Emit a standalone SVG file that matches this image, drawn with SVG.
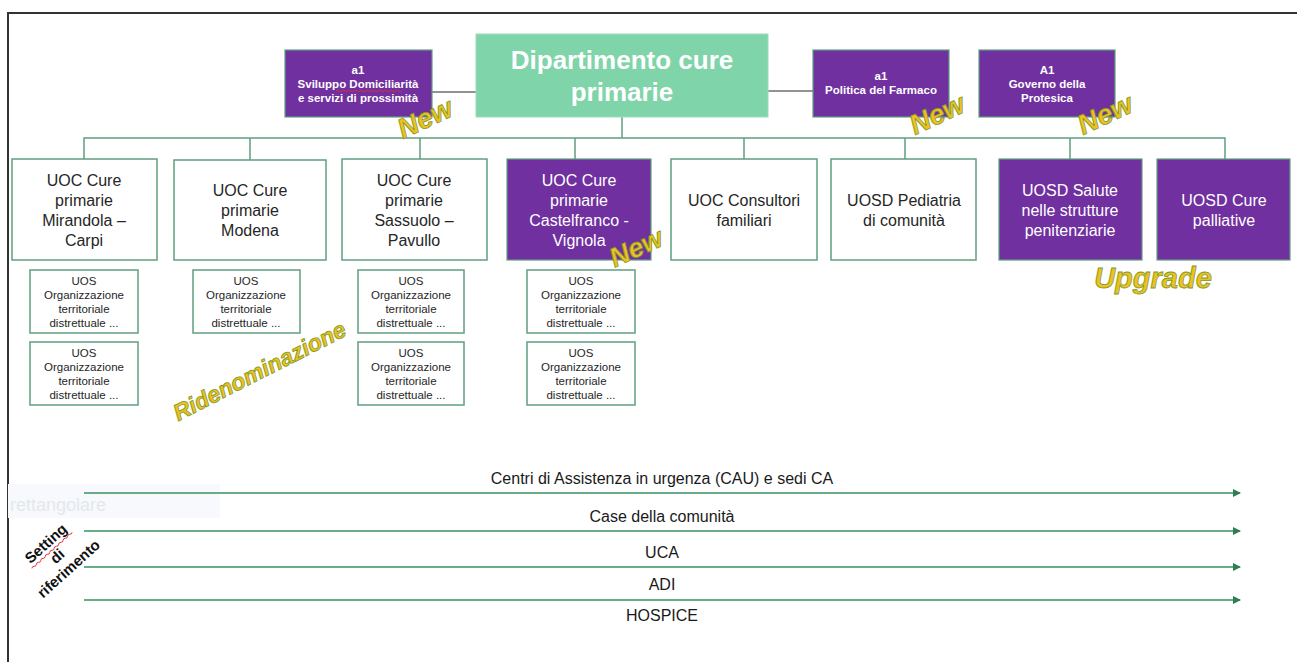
<svg xmlns="http://www.w3.org/2000/svg" width="1297" height="662" viewBox="0 0 1297 662">
<defs>
<style>
.t{font-family:"Liberation Sans",Arial,sans-serif;text-anchor:middle}
.box{fill:#ffffff;stroke:#5f9f7f;stroke-width:1.5}
.pbox{fill:#7030a0;stroke:#5f9f7f;stroke-width:1.2}
.uoc{font-size:16px;fill:#262626}
.uocw{font-size:16px;fill:#ffffff}
.uos{font-size:11.5px;fill:#262626}
.top{font-size:11.5px;font-weight:bold;fill:#ffffff}
.bus{stroke:#5f9f7f;stroke-width:1.5;fill:none}
.blk{stroke:#262626;stroke-width:1.2;fill:none}
.arr{stroke:#6aab88;stroke-width:2;fill:none;marker-end:url(#ah)}
.lbl{font-size:16px;fill:#1a1a1a}
.stamp{font-family:"Liberation Sans Narrow","Liberation Sans",Arial,sans-serif;font-weight:bold;font-style:italic;fill:#f0c020;stroke:#7d9a2a;stroke-width:0.8;text-anchor:middle}
.sq{stroke:#e03030;stroke-width:0.9;fill:none}
</style>
<marker id="ah" markerWidth="8" markerHeight="8" refX="7" refY="4" orient="auto" markerUnits="userSpaceOnUse">
<path d="M0,0 L8,4 L0,8 Z" fill="#2e7d55"/>
</marker>
</defs>
<rect width="1297" height="662" fill="#ffffff"/>
<path d="M8,662 L8,13 L1297,13" stroke="#333333" stroke-width="2" fill="none"/>
<rect x="8" y="484" width="212" height="34" fill="#f7f9fc"/>
<text x="10" y="511" font-family="Liberation Sans,Arial,sans-serif" font-size="18" fill="#e4e8ee">rettangolare</text>

<g id="connectors">
<path class="blk" d="M432,92 L476,92"/>
<path class="blk" d="M768,91 L813,91"/>
<path class="bus" d="M622,117 L622,138"/>
<path class="bus" d="M84,159 L84,138 L1225,138 L1225,159"/>
<path class="bus" d="M250,138 L250,160 M420,138 L420,159 M575,138 L575,159 M744,138 L744,159 M905,138 L905,159 M1070,138 L1070,159"/>
<path class="arr" d="M84,493 L1240,493"/>
<path class="arr" d="M84,531 L1240,531"/>
<path class="arr" d="M84,567 L1240,567"/>
<path class="arr" d="M84,600 L1240,600"/>
</g>

<g id="dipartimento">
<rect x="476" y="34" width="292" height="83" fill="#7fd4a9" stroke="#9fdcbf" stroke-width="1"/>
<text class="t" x="622" y="69" font-size="26" font-weight="bold" fill="#ffffff">Dipartimento cure</text>
<text class="t" x="622" y="101" font-size="26" font-weight="bold" fill="#ffffff">primarie</text>
</g>

<g id="a1-domiciliarita">
<rect class="pbox" x="285" y="50" width="147" height="67"/>
<text class="t top" x="358" y="74">a1</text>
<text class="t top" x="358" y="88">Sviluppo Domiciliarità</text>
<text class="t top" x="358" y="102">e servizi di prossimità</text>
<path class="sq" d="M336,91 q1.5,-1.5 3,0 t3,0 t3,0 t3,0 t3,0 t3,0 t3,0 t3,0 t3,0 t3,0 t3,0 t3,0 t3,0 t3,0 t3,0 t3,0 t3,0 t3,0 t3,0 t3,0 t3,0 t3,0"/>
</g>

<g id="a1-farmaco">
<rect class="pbox" x="813" y="50" width="136" height="67"/>
<text class="t top" x="881" y="80">a1</text>
<text class="t top" x="881" y="94">Politica del Farmaco</text>
</g>

<g id="A1-protesica">
<rect class="pbox" x="979" y="50" width="136" height="67"/>
<text class="t top" x="1047" y="74">A1</text>
<text class="t top" x="1047" y="88">Governo della</text>
<text class="t top" x="1047" y="102">Protesica</text>
</g>

<g id="uoc-mirandola">
<rect class="box" x="12" y="159" width="145" height="101"/>
<text class="t uoc" x="84" y="186">UOC Cure</text>
<text class="t uoc" x="84" y="206">primarie</text>
<text class="t uoc" x="84" y="226">Mirandola –</text>
<text class="t uoc" x="84" y="246">Carpi</text>
</g>

<g id="uoc-modena">
<rect class="box" x="174" y="160" width="152" height="100"/>
<text class="t uoc" x="250" y="196">UOC Cure</text>
<text class="t uoc" x="250" y="216">primarie</text>
<text class="t uoc" x="250" y="236">Modena</text>
</g>

<g id="uoc-sassuolo">
<rect class="box" x="342" y="159" width="145" height="101"/>
<text class="t uoc" x="414" y="186">UOC Cure</text>
<text class="t uoc" x="414" y="206">primarie</text>
<text class="t uoc" x="414" y="226">Sassuolo –</text>
<text class="t uoc" x="414" y="246">Pavullo</text>
</g>

<g id="uoc-castelfranco">
<rect class="pbox" x="507" y="159" width="144" height="101"/>
<text class="t uocw" x="579" y="186">UOC Cure</text>
<text class="t uocw" x="579" y="206">primarie</text>
<text class="t uocw" x="579" y="226">Castelfranco -</text>
<text class="t uocw" x="579" y="246">Vignola</text>
</g>

<g id="uoc-consultori">
<rect class="box" x="671" y="159" width="146" height="101"/>
<text class="t uoc" x="744" y="206">UOC Consultori</text>
<text class="t uoc" x="744" y="226">familiari</text>
</g>

<g id="uosd-pediatria">
<rect class="box" x="831" y="159" width="145" height="101"/>
<text class="t uoc" x="904" y="206">UOSD Pediatria</text>
<text class="t uoc" x="904" y="226">di comunità</text>
</g>

<g id="uosd-penitenziarie">
<rect class="pbox" x="999" y="159" width="143" height="101"/>
<text class="t uocw" x="1070" y="196">UOSD Salute</text>
<text class="t uocw" x="1070" y="216">nelle strutture</text>
<text class="t uocw" x="1070" y="236">penitenziarie</text>
</g>

<g id="uosd-palliative">
<rect class="pbox" x="1157" y="159" width="133" height="101"/>
<text class="t uocw" x="1224" y="206">UOSD Cure</text>
<text class="t uocw" x="1224" y="226">palliative</text>
</g>

<g id="uos-1a">
<rect class="box" x="30" y="270" width="108" height="63"/>
<text class="t uos" x="84" y="285">UOS</text>
<text class="t uos" x="84" y="299">Organizzazione</text>
<text class="t uos" x="84" y="313">territoriale</text>
<text class="t uos" x="84" y="327">distrettuale ...</text>
</g>
<g id="uos-1b">
<rect class="box" x="30" y="342" width="108" height="63"/>
<text class="t uos" x="84" y="357">UOS</text>
<text class="t uos" x="84" y="371">Organizzazione</text>
<text class="t uos" x="84" y="385">territoriale</text>
<text class="t uos" x="84" y="399">distrettuale ...</text>
</g>
<g id="uos-2a">
<rect class="box" x="193" y="270" width="107" height="63"/>
<text class="t uos" x="246" y="285">UOS</text>
<text class="t uos" x="246" y="299">Organizzazione</text>
<text class="t uos" x="246" y="313">territoriale</text>
<text class="t uos" x="246" y="327">distrettuale ...</text>
</g>
<g id="uos-3a">
<rect class="box" x="358" y="270" width="106" height="63"/>
<text class="t uos" x="411" y="285">UOS</text>
<text class="t uos" x="411" y="299">Organizzazione</text>
<text class="t uos" x="411" y="313">territoriale</text>
<text class="t uos" x="411" y="327">distrettuale ...</text>
</g>
<g id="uos-3b">
<rect class="box" x="358" y="342" width="106" height="63"/>
<text class="t uos" x="411" y="357">UOS</text>
<text class="t uos" x="411" y="371">Organizzazione</text>
<text class="t uos" x="411" y="385">territoriale</text>
<text class="t uos" x="411" y="399">distrettuale ...</text>
</g>
<g id="uos-4a">
<rect class="box" x="527" y="270" width="108" height="63"/>
<text class="t uos" x="581" y="285">UOS</text>
<text class="t uos" x="581" y="299">Organizzazione</text>
<text class="t uos" x="581" y="313">territoriale</text>
<text class="t uos" x="581" y="327">distrettuale ...</text>
</g>
<g id="uos-4b">
<rect class="box" x="527" y="342" width="108" height="63"/>
<text class="t uos" x="581" y="357">UOS</text>
<text class="t uos" x="581" y="371">Organizzazione</text>
<text class="t uos" x="581" y="385">territoriale</text>
<text class="t uos" x="581" y="399">distrettuale ...</text>
</g>

<g id="annotations">
<text class="stamp" font-size="28" transform="translate(429,127) rotate(-25)">New</text>
<text class="stamp" font-size="28" transform="translate(941,123) rotate(-25)">New</text>
<text class="stamp" font-size="28" transform="translate(1109,123) rotate(-25)">New</text>
<text class="stamp" font-size="27" transform="translate(640,256) rotate(-25)">New</text>
<text class="stamp" font-size="29" x="1153" y="288">Upgrade</text>
<text class="stamp" font-size="23" transform="translate(263,378) rotate(-27)">Ridenominazione</text>
</g>

<g id="settings">
<text class="t lbl" x="662" y="484">Centri di Assistenza in urgenza (CAU) e sedi CA</text>
<text class="t lbl" x="662" y="522">Case della comunità</text>
<text class="t lbl" x="662" y="558">UCA</text>
<text class="t lbl" x="662" y="590">ADI</text>
<text class="t lbl" x="662" y="621">HOSPICE</text>
<g transform="translate(58,557) rotate(-42)">
<text class="t" x="0" y="-13" font-size="15" font-weight="bold" fill="#111111">Setting</text>
<path class="sq" d="M-27,-9 q1.5,-1.5 3,0 t3,0 t3,0 t3,0 t3,0 t3,0 t3,0 t3,0 t3,0 t3,0 t3,0 t3,0 t3,0 t3,0 t3,0 t3,0 t3,0 t3,0"/>
<text class="t" x="0" y="4" font-size="15" font-weight="bold" fill="#111111">di</text>
<text class="t" x="0" y="21" font-size="15" font-weight="bold" fill="#111111">riferimento</text>
</g>
</g>
</svg>
